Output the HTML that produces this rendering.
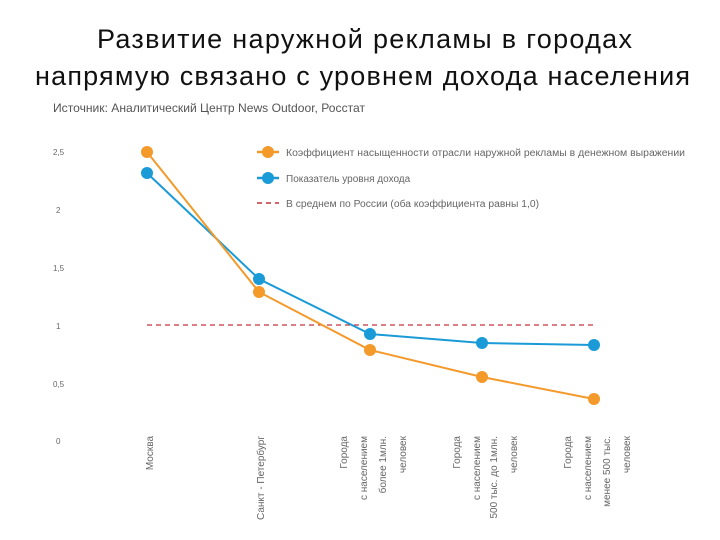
<!DOCTYPE html>
<html><head><meta charset="utf-8"><style>
body{margin:0;background:#fff;}
svg{display:block;font-family:"Liberation Sans",sans-serif;}
</style></head><body>
<svg width="720" height="540" viewBox="0 0 720 540" xmlns="http://www.w3.org/2000/svg">
<text x="97" y="48" font-size="27" textLength="535" lengthAdjust="spacing" fill="#111">Развитие наружной рекламы в городах</text>
<text x="35" y="85" font-size="27" textLength="655" lengthAdjust="spacing" fill="#111">напрямую связано с уровнем дохода населения</text>
<text x="53" y="112" font-size="12" textLength="312" lengthAdjust="spacingAndGlyphs" fill="#555">Источник: Аналитический Центр News Outdoor, Росстат</text>
<g font-size="8" fill="#666">
<text x="53" y="155">2,5</text><text x="56" y="213">2</text><text x="53" y="271">1,5</text>
<text x="56" y="329">1</text><text x="53" y="387">0,5</text><text x="56" y="444">0</text>
</g>
<line x1="147" y1="325" x2="594" y2="325" stroke="#c8303c" stroke-width="1.3" stroke-dasharray="5,4"/>
<polyline points="147,173 259,279 370,334 482,343 594,345" fill="none" stroke="#1a9bd7" stroke-width="2"/>
<polyline points="147,152 259,292 370,350 482,377 594,399" fill="none" stroke="#f39a2b" stroke-width="2"/>
<g fill="#1a9bd7"><circle cx="147" cy="173" r="6"/><circle cx="259" cy="279" r="6"/><circle cx="370" cy="334" r="6"/><circle cx="482" cy="343" r="6"/><circle cx="594" cy="345" r="6"/></g>
<g fill="#f39a2b"><circle cx="147" cy="152" r="6"/><circle cx="259" cy="292" r="6"/><circle cx="370" cy="350" r="6"/><circle cx="482" cy="377" r="6"/><circle cx="594" cy="399" r="6"/></g>
<line x1="257" y1="152" x2="279" y2="152" stroke="#f39a2b" stroke-width="2.5"/><circle cx="268" cy="152" r="6" fill="#f39a2b"/>
<line x1="257" y1="178" x2="279" y2="178" stroke="#1a9bd7" stroke-width="2.5"/><circle cx="268" cy="178" r="6" fill="#1a9bd7"/>
<line x1="257" y1="203" x2="279" y2="203" stroke="#c8303c" stroke-width="1.5" stroke-dasharray="5,4"/>
<g font-size="10" fill="#666">
<text x="286" y="156" textLength="399" lengthAdjust="spacingAndGlyphs">Коэффициент насыщенности отрасли наружной рекламы в денежном выражении</text>
<text x="286" y="182">Показатель уровня дохода</text>
<text x="286" y="207" textLength="253" lengthAdjust="spacingAndGlyphs">В среднем по России (оба коэффициента равны 1,0)</text>
</g>
<g font-size="10" fill="#666" text-anchor="end">
<text transform="translate(153,436) rotate(-90)">Москва</text>
<text transform="translate(264,436) rotate(-90)">Санкт - Петербург</text>
<text transform="translate(347,436) rotate(-90)">Города</text>
<text transform="translate(367,436) rotate(-90)">с населением</text>
<text transform="translate(386,436) rotate(-90)">более 1млн.</text>
<text transform="translate(406,436) rotate(-90)">человек</text>
<text transform="translate(460,436) rotate(-90)">Города</text>
<text transform="translate(480,436) rotate(-90)">с населением</text>
<text transform="translate(497,436) rotate(-90)">500 тыс. до 1млн.</text>
<text transform="translate(517,436) rotate(-90)">человек</text>
<text transform="translate(571,436) rotate(-90)">Города</text>
<text transform="translate(591,436) rotate(-90)">с населением</text>
<text transform="translate(610,436) rotate(-90)">менее 500 тыс.</text>
<text transform="translate(630,436) rotate(-90)">человек</text>
</g>
</svg>
</body></html>
